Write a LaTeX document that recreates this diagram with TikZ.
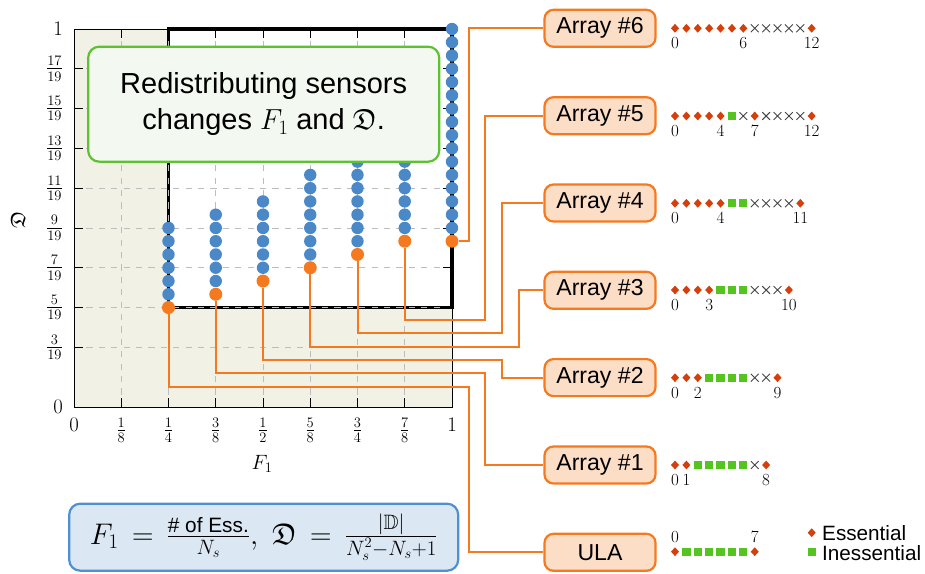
\RequirePackage{fix-cm}
\documentclass[tikz,border=0pt]{standalone}
\usepackage{amsmath,amssymb}
\usepackage{fontspec}
\newfontfamily\lsans{Liberation Sans}

\DeclareMathSizes{20.7}{20.7}{14.5}{10.4}
\DeclareMathSizes{29.8}{29.8}{20.8}{14.9}
\DeclareMathSizes{29}{29}{20.3}{14.5}

\definecolor{plotbg}{HTML}{F1F1E5}
\definecolor{gridcol}{HTML}{BDBDBD}
\definecolor{dotblue}{HTML}{4A88C8}
\definecolor{dotorange}{HTML}{F57A1F}
\definecolor{peach}{HTML}{FCDDC6}
\definecolor{callgreen}{HTML}{5CC232}
\definecolor{callfill}{HTML}{F3F9F0}
\definecolor{formblue}{HTML}{4F90D0}
\definecolor{formfill}{HTML}{DBE7F3}
\definecolor{esscol}{HTML}{D43F0B}
\definecolor{inesscol}{HTML}{55C421}
\definecolor{misscol}{HTML}{454545}

\newcommand\tickfont{\fontsize{20.7}{24}\selectfont}
\newcommand\boxfont{\lsans\fontsize{23.1}{27}\selectfont}
\newcommand\callfont{\lsans\fontsize{29}{36}\selectfont}
\newcommand\formfont{\fontsize{29.8}{34}\selectfont}
\newcommand\fracfont{\fontsize{20.8}{24}\selectfont}
\newcommand\idxfont{\fontsize{17}{19}\selectfont}
\newcommand\legfont{\lsans\fontsize{20.7}{24}\selectfont}

\begin{document}
\begin{tikzpicture}[x=1pt,y=-1pt,
  gridline/.style={gridcol,line width=0.9pt,dash pattern=on 6.2pt off 6.2pt},
  ticklab/.style={inner sep=0pt,font=\tickfont},
  orangedot/.style={circle,fill=dotorange,inner sep=0pt,minimum size=13pt},
  conn/.style={dotorange,line width=2pt},
  arraybox/.style={draw=dotorange,fill=peach,line width=2.2pt,rounded corners=9pt,
    minimum width=111pt,minimum height=37pt,inner sep=0pt,font=\boxfont},
  idx/.style={inner sep=0pt,font=\idxfont},
  essmark/.pic={\fill[esscol] (0,-4.4) -- (4,0) -- (0,4.4) -- (-4,0) -- cycle;},
  inessmark/.pic={\fill[inesscol] (-4.1,-4.1) rectangle (4.1,4.1);},
  missmark/.pic={\draw[misscol,line width=0.9pt] (-3.9,-3.9) -- (3.9,3.9) (-3.9,3.9) -- (3.9,-3.9);}
]
\useasboundingbox (0,0) rectangle (925,573);

% ---------------- the F1 / D plane ----------------
\begin{scope}[shift={(74pt,-407pt)},x=378pt,y=378pt]
  \fill[plotbg] (0,0) rectangle (1,1);
  \fill[white] (0.25,15/57) rectangle (1,1);
  \draw[line width=3.2pt] (0.25,15/57) rectangle (1,1);
  \foreach \k in {1,...,7} \draw[gridline] (\k/8,0) -- (\k/8,1);
  \foreach \n in {3,5,...,17} \draw[gridline] (0,\n/19) -- (1,\n/19);
  % frame and ticks
  \draw[line width=1pt] (0,0) rectangle (1,1);
  \foreach \k in {1,...,7} {
    \draw[line width=0.8pt] (\k/8,0) -- ++(0pt,9pt);
    \draw[line width=0.8pt] (\k/8,1) -- ++(0pt,-9pt);
  }
  \foreach \n in {3,5,...,17} {
    \draw[line width=0.8pt] (0,\n/19) -- ++(9pt,0pt);
    \draw[line width=0.8pt] (1,\n/19) -- ++(-9pt,0pt);
  }
  % tick labels
  \foreach \k/\lab in {0/0,1/{\frac{1}{8}},2/{\frac{1}{4}},3/{\frac{3}{8}},4/{\frac{1}{2}},
                       5/{\frac{5}{8}},6/{\frac{3}{4}},7/{\frac{7}{8}},8/1}
    \node[ticklab,anchor=north,yshift=-11pt] (xt\k) at (\k/8,0) {$\lab$};
  \node[ticklab,anchor=east,xshift=-11pt] (yt0) at (0,0) {$0$};
  \foreach \n in {3,5,...,17}
    \node[ticklab,anchor=east,xshift=-11pt] (yt\n) at (0,\n/19) {$\frac{\n}{19}$};
  \node[ticklab,anchor=east,xshift=-11pt] (yt19) at (0,1) {$1$};
  % attainable D for each F1 (blue), chosen array (orange)
  \foreach \k/\lo/\cnt in {2/17/5,3/19/5,4/21/5,5/23/6,6/25/8,7/27/11,8/27/15}
    \foreach \j in {0,...,\cnt}
      \fill[dotblue] (\k/8,{(\lo+2*\j)/57}) circle[radius=6.2pt];
  \foreach \k/\n in {2/15,3/17,4/19,5/21,6/23,7/25,8/25}
    \node[orangedot] (o\k) at (\k/8,\n/57) {};
\end{scope}

\node[ticklab] (xlab) at (262,464) {$F_1$};
\node[ticklab,rotate=90] (ylab) at (18,220) {$\mathfrak{D}$};

% ---------------- array labels ----------------
\node[arraybox] (a6) at (600,28.3) {Array \#6};
\node[arraybox] (a5) at (600,115.7) {Array \#5};
\node[arraybox] (a4) at (600,203) {Array \#4};
\node[arraybox] (a3) at (600,290.3) {Array \#3};
\node[arraybox] (a2) at (600,377.6) {Array \#2};
\node[arraybox] (a1) at (600,465) {Array \#1};
\node[arraybox] (a0) at (600,552.3) {ULA};

% ---------------- connectors ----------------
\coordinate (v1) at (469.3,0);
\coordinate (v2) at (485,0);
\coordinate (v3) at (501.7,0);
\coordinate (v4) at (518.7,0);
\coordinate (h5) at (0,320);
\coordinate (h4) at (0,333.3);
\coordinate (h3) at (0,346.7);
\coordinate (h2) at (0,360);
\coordinate (h1) at (0,373.3);
\coordinate (h0) at (0,386.7);
\draw[conn] (o8.east) -- (o8.east -| v1) |- (a6.west);
\draw[conn] (o7.south) |- (v2 |- h5) |- (a5.west);
\draw[conn] (o6.south) |- (v3 |- h4) |- (a4.west);
\draw[conn] (o5.south) |- (v4 |- h3) |- (a3.west);
\draw[conn] (o4.south) |- (v3 |- h2) |- (a2.west);
\draw[conn] (o3.south) |- (v2 |- h1) |- (a1.west);
\draw[conn] (o2.south) |- (v1 |- h0) |- (a0.west);

% ---------------- sensor layouts ----------------
% Array #6
\foreach \i in {0,...,6,12} \pic at ({675+11.39*\i},28.3) {essmark};
\foreach \i in {7,...,11} \pic at ({675+11.39*\i},28.3) {missmark};
\foreach \i in {0,6,12} \node[idx] (l6-\i) at ({675+11.39*\i},43.3) {$\i$};
% Array #5
\foreach \i in {0,...,4,7,12} \pic at ({675+11.39*\i},116) {essmark};
\foreach \i in {5} \pic at ({675+11.39*\i},116) {inessmark};
\foreach \i in {6,8,9,10,11} \pic at ({675+11.39*\i},116) {missmark};
\foreach \i in {0,4,7,12} \node[idx] (l5-\i) at ({675+11.39*\i},131) {$\i$};
% Array #4
\foreach \i in {0,...,4,11} \pic at ({675+11.39*\i},203.3) {essmark};
\foreach \i in {5,6} \pic at ({675+11.39*\i},203.3) {inessmark};
\foreach \i in {7,...,10} \pic at ({675+11.39*\i},203.3) {missmark};
\foreach \i in {0,4,11} \node[idx] (l4-\i) at ({675+11.39*\i},218.3) {$\i$};
% Array #3
\foreach \i in {0,...,3,10} \pic at ({675+11.39*\i},290) {essmark};
\foreach \i in {4,5,6} \pic at ({675+11.39*\i},290) {inessmark};
\foreach \i in {7,8,9} \pic at ({675+11.39*\i},290) {missmark};
\foreach \i in {0,3,10} \node[idx] (l3-\i) at ({675+11.39*\i},305) {$\i$};
% Array #2
\foreach \i in {0,1,2,9} \pic at ({675+11.39*\i},377.7) {essmark};
\foreach \i in {3,...,6} \pic at ({675+11.39*\i},377.7) {inessmark};
\foreach \i in {7,8} \pic at ({675+11.39*\i},377.7) {missmark};
\foreach \i in {0,2,9} \node[idx] (l2-\i) at ({675+11.39*\i},392.7) {$\i$};
% Array #1
\foreach \i in {0,1,8} \pic at ({675+11.39*\i},465) {essmark};
\foreach \i in {2,...,6} \pic at ({675+11.39*\i},465) {inessmark};
\foreach \i in {7} \pic at ({675+11.39*\i},465) {missmark};
\foreach \i in {0,1,8} \node[idx] (l1-\i) at ({675+11.39*\i},480) {$\i$};
% ULA
\foreach \i in {0,7} \pic at ({675+11.39*\i},551.7) {essmark};
\foreach \i in {1,...,6} \pic at ({675+11.39*\i},551.7) {inessmark};
\foreach \i in {0,7} \node[idx] (l0-\i) at ({675+11.39*\i},537) {$\i$};

% legend
\pic at (811.7,532.7) {essmark};
\pic at (811.7,552.3) {inessmark};
\node[anchor=west,inner sep=0pt,font=\legfont] (legE) at (822,533.5) {Essential};
\node[anchor=west,inner sep=0pt,font=\legfont] (legI) at (822,553) {Inessential};

% ---------------- notes ----------------
\node[draw=callgreen,fill=callfill,line width=2.2pt,rounded corners=11pt,
      minimum width=351pt,minimum height=115pt,align=center,font=\callfont]
  (msg) at (263.7,104.2) {Redistributing sensors\\changes $F_1$ and $\mathfrak{D}$.};

\node[draw=formblue,fill=formfill,line width=2.2pt,rounded corners=11pt,
      minimum width=389pt,minimum height=67pt,font=\formfont]
  (form) at (263.7,537.2)
  {$F_1\,=\,\frac{\mbox{\lsans\fracfont\#~of~Ess.}}{\mbox{\fracfont$N_s$}},\ 
    \mathfrak{D}\,=\,\frac{\mbox{\fracfont$|\mathbb{D}|$}}{\mbox{\fracfont$N_s^2{-}N_s{+}1$}}$};
\end{tikzpicture}
\end{document}
